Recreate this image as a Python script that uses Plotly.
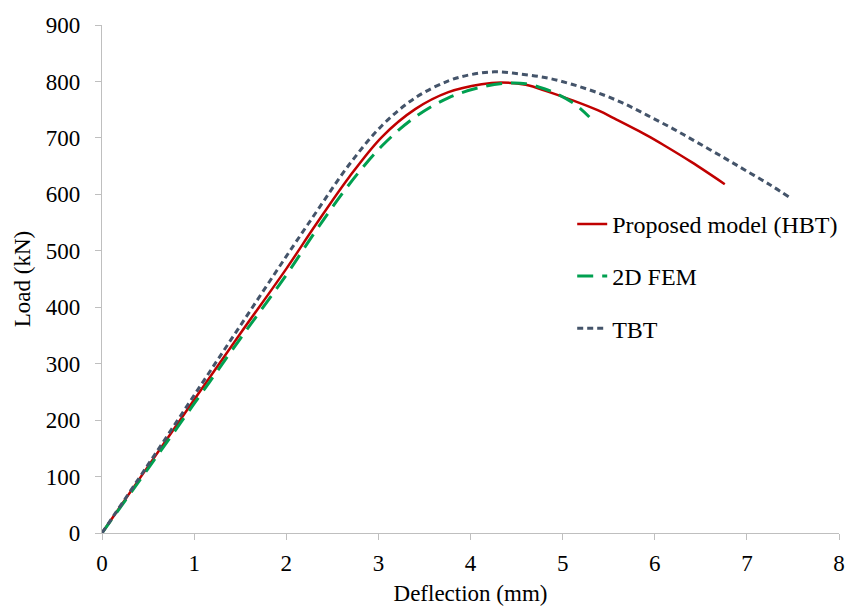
import plotly.graph_objects as go

hbt_x = [0, 0.5, 1, 1.5, 2, 2.32, 2.68, 3.04, 3.4, 3.76, 4.12, 4.33, 4.6, 4.84, 5.1, 5.38, 5.59, 5.92, 6.1, 6.4, 6.76]
hbt_y = [0, 118, 236, 353, 468, 546, 630, 702, 751, 781, 795, 798, 794, 782, 767, 749, 732, 704, 687, 657, 618]

fem_x = [0, 0.5, 1, 1.5, 2, 2.32, 2.68, 3.04, 3.4, 3.76, 4.12, 4.4, 4.6, 4.8, 4.95, 5.13, 5.29]
fem_y = [0, 114, 229, 344, 457, 535, 617, 686, 737, 771, 790, 797, 796, 787, 777, 760, 737]

tbt_x = [0, 0.5, 1, 1.5, 2, 2.34, 2.68, 3.04, 3.4, 3.76, 4.0, 4.26, 4.55, 4.84, 5.1, 5.38, 5.65, 5.92, 6.2, 6.46, 6.75, 7.0, 7.25, 7.46]
tbt_y = [0, 121, 244, 367, 490, 572, 652, 722, 771, 801, 812, 817, 813, 806, 795, 780, 762, 740, 716, 692, 665, 641, 617, 595]

names = ["Proposed model (HBT)", "2D FEM", "TBT"]

fig = go.Figure()
fig.add_trace(go.Scatter(x=hbt_x, y=hbt_y, mode="lines", name=names[0], legendgroup="a",
                         line=dict(color="#C00000", width=2.5, shape="spline", smoothing=1)))
fig.add_trace(go.Scatter(x=fem_x, y=fem_y, mode="lines", name=names[1], legendgroup="b",
                         line=dict(color="#00A050", width=3, dash="16px,9px", shape="spline", smoothing=1)))
fig.add_trace(go.Scatter(x=tbt_x, y=tbt_y, mode="lines", name=names[2], legendgroup="c",
                         line=dict(color="#44546A", width=3, dash="6px,4px", shape="spline", smoothing=1)))

font = "Liberation Serif, Times New Roman, serif"
fig.update_layout(
    width=850, height=610,
    margin=dict(l=102, r=7, t=25, b=77),
    plot_bgcolor="white", paper_bgcolor="white",
    font=dict(family=font, size=23, color="black"),
    legend=dict(x=0.638, y=0.652, xanchor="left", yanchor="top", font=dict(size=24),
                tracegroupgap=18, bgcolor="rgba(0,0,0,0)"),
    xaxis=dict(range=[0, 8], dtick=1, showgrid=False, zeroline=False, automargin=False,
               showline=True, linecolor="#BFBFBF", linewidth=1.2,
               ticks="outside", ticklen=6, tickcolor="#BFBFBF", ticklabelstandoff=3,
               tickfont=dict(size=23),
               title=dict(text="Deflection (mm)", font=dict(size=23), standoff=10)),
    yaxis=dict(range=[0, 900], dtick=100, showgrid=False, zeroline=False, automargin=False,
               showline=True, linecolor="#BFBFBF", linewidth=1.2,
               ticks="outside", ticklen=6, tickcolor="#BFBFBF", ticklabelstandoff=10,
               tickfont=dict(size=23),
               title=dict(text="Load (kN)", font=dict(size=23), standoff=8)),
)
fig.write_html("out.html")
